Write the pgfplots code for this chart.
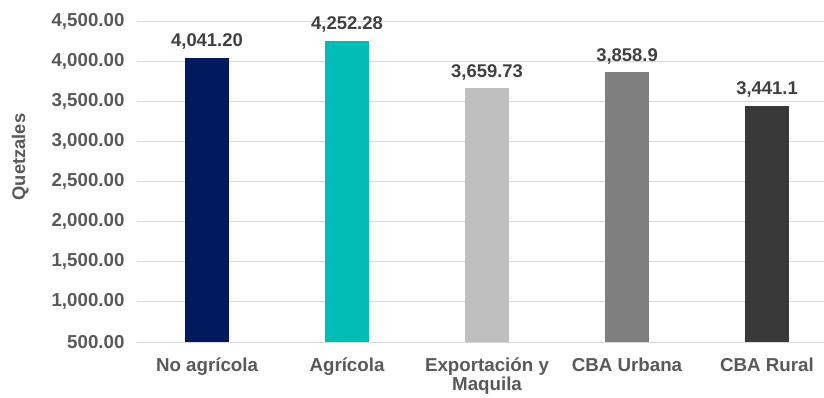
\documentclass[border=0pt]{standalone}
\usepackage{pgfplots}
\pgfplotsset{compat=1.18}
\usepackage{fontspec}
\setmainfont{Liberation Sans}
\definecolor{txt}{HTML}{595959}
\definecolor{vtxt}{HTML}{404040}
\definecolor{gridc}{HTML}{D9D9D9}
\definecolor{c1}{HTML}{001A5E}
\definecolor{c2}{HTML}{00BDB5}
\definecolor{c3}{HTML}{BFBFBF}
\definecolor{c4}{HTML}{7F7F7F}
\definecolor{c5}{HTML}{393939}
\begin{document}
\begin{tikzpicture}
\useasboundingbox (-137bp,-56bp) rectangle (687bp,342bp);
\begin{axis}[
  scale only axis,
  width=687bp, height=321bp,
  at={(0,0)}, anchor=south west,
  xmin=-0.5, xmax=4.407,
  ymin=500, ymax=4500,
  ytick={500,1000,...,4500},
  xtick={0,1,2,3,4},
  xticklabels={No agrícola,Agrícola,{Exportación y\\Maquila},CBA Urbana,CBA Rural},
  axis line style={draw=none},
  major tick length=0pt,
  xmajorgrids=false,
  ymajorgrids=true,
  grid style={draw=gridc, line width=1bp},
  every tick label/.append style={text=txt},
  xticklabel style={align=center, yshift=-12bp, font=\fontsize{18.8}{19.5}\selectfont\bfseries},
  yticklabel style={xshift=-9bp, font=\fontsize{18.8}{20}\selectfont\bfseries},
  /pgf/number format/assume math mode=true,
  yticklabel={\pgfmathprintnumber[fixed,fixed zerofill,precision=2,1000 sep={,}]{\tick}},
  ylabel={Quetzales},
  ylabel style={at={(axis description cs:-0.17,0.576)}, anchor=center, text=txt, font=\fontsize{18.4}{20}\selectfont\bfseries},
  ybar, bar width=44bp, bar shift=0pt,
  nodes near coords={\fontsize{18.5}{20}\selectfont\bfseries\pgfplotspointmeta},
  point meta=explicit symbolic,
  every node near coord/.append style={text=vtxt, yshift=5bp},
  clip=false,
]
\draw[draw=gridc, line width=1bp] (axis cs:-0.5,500) -- (axis cs:4.407,500);
\addplot[fill=c1, draw=none] coordinates {(0,4041.20) [4,041.20]};
\addplot[fill=c2, draw=none] coordinates {(1,4252.28) [4,252.28]};
\addplot[fill=c3, draw=none] coordinates {(2,3659.73) [3,659.73]};
\addplot[fill=c4, draw=none] coordinates {(3,3858.9) [3,858.9]};
\addplot[fill=c5, draw=none] coordinates {(4,3441.1) [3,441.1]};
\end{axis}
\end{tikzpicture}
\end{document}
